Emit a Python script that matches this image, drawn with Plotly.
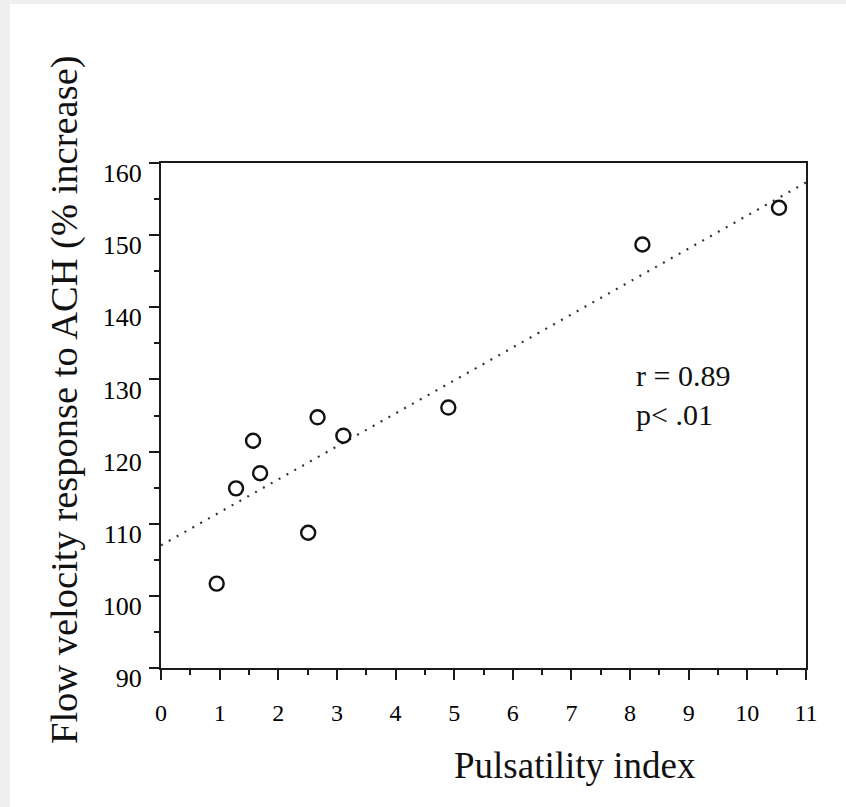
import plotly.graph_objects as go

# Data
pulsatility_index = [0.95, 1.28, 1.57, 1.69, 2.51, 2.67, 3.11, 4.90, 8.21, 10.54]
ach_response = [101.7, 114.9, 121.5, 117.0, 108.75, 124.75, 122.2, 126.1, 148.7, 153.8]
fit_x = [0, 11]
fit_y = [107.0, 157.3]
x_ticks = list(range(0, 12))
y_ticks = list(range(90, 161, 10))
stats_text = "r = 0.89<br>p< .01"

FONT = "Liberation Serif, Times New Roman, serif"
W, H = 846, 807
L, R, T, B = 161, 40, 163, 139
PW, PH = W - L - R, H - T - B


def px_x(p):
    return (p - L) / PW


def px_y(p):
    return (H - B - p) / PH


fig = go.Figure()
fig.add_trace(go.Scatter(
    x=fit_x, y=fit_y, mode="lines",
    line=dict(color="#333333", width=2.2, dash="2px,7px"),
    hoverinfo="skip", showlegend=False,
))
fig.add_trace(go.Scatter(
    x=pulsatility_index, y=ach_response, mode="markers",
    marker=dict(symbol="circle-open", size=14, color="#111111",
                line=dict(width=2.4, color="#111111")),
    showlegend=False,
))

axis_common = dict(
    showgrid=False, zeroline=False, showline=True, linecolor="#1a1a1a",
    linewidth=2, mirror=True, ticks="outside", tickcolor="#1a1a1a",
    tickwidth=2, ticklen=10,
)

fig.update_xaxes(
    range=[0, 11], tickvals=x_ticks, ticktext=[str(v) for v in x_ticks],
    minor=dict(dtick=0.5, ticks="outside", ticklen=5, tickwidth=2, tickcolor="#1a1a1a"),
    ticklabelstandoff=12,
    tickfont=dict(family=FONT, size=24, color="#000000"),
    **axis_common,
)
fig.update_yaxes(
    range=[90, 160], tickvals=y_ticks, ticktext=[str(v) for v in y_ticks],
    minor=dict(dtick=5, ticks="outside", ticklen=5, tickwidth=2, tickcolor="#1a1a1a"),
    ticklabelstandoff=2, ticklabelshift=10,
    tickfont=dict(family=FONT, size=26, color="#000000"),
    **axis_common,
)

fig.add_annotation(
    text="Pulsatility index", xref="paper", yref="paper",
    x=px_x(575), y=px_y(765), xanchor="center", yanchor="middle",
    showarrow=False, font=dict(family=FONT, size=37, color="#111111"),
)
fig.add_annotation(
    text="Flow velocity response to ACH (% increase)", xref="paper", yref="paper",
    x=px_x(64), y=px_y(400), xanchor="center", yanchor="middle", textangle=-90,
    showarrow=False, font=dict(family=FONT, size=38.5, color="#111111"),
)
fig.add_annotation(
    text=stats_text, xref="paper", yref="paper",
    x=px_x(634), y=px_y(395), xanchor="left", yanchor="middle", align="left",
    showarrow=False, font=dict(family=FONT, size=30, color="#111111"),
)

# light gray frame strips on the left and top edges of the picture
fig.add_shape(type="rect", xref="paper", yref="paper", layer="below",
              x0=px_x(0), x1=px_x(10), y0=px_y(H), y1=px_y(0),
              fillcolor="#efefef", line=dict(width=0))
fig.add_shape(type="rect", xref="paper", yref="paper", layer="below",
              x0=px_x(0), x1=px_x(W), y0=px_y(4), y1=px_y(0),
              fillcolor="#efefef", line=dict(width=0))

fig.update_layout(
    width=W, height=H,
    margin=dict(l=L, r=R, t=T, b=B, autoexpand=False),
    paper_bgcolor="white", plot_bgcolor="white",
    showlegend=False,
)

fig.write_html(
    "out.html",
    config={"displayModeBar": False},
    post_script="document.body.style.margin='0';document.body.style.overflow='hidden';",
)
